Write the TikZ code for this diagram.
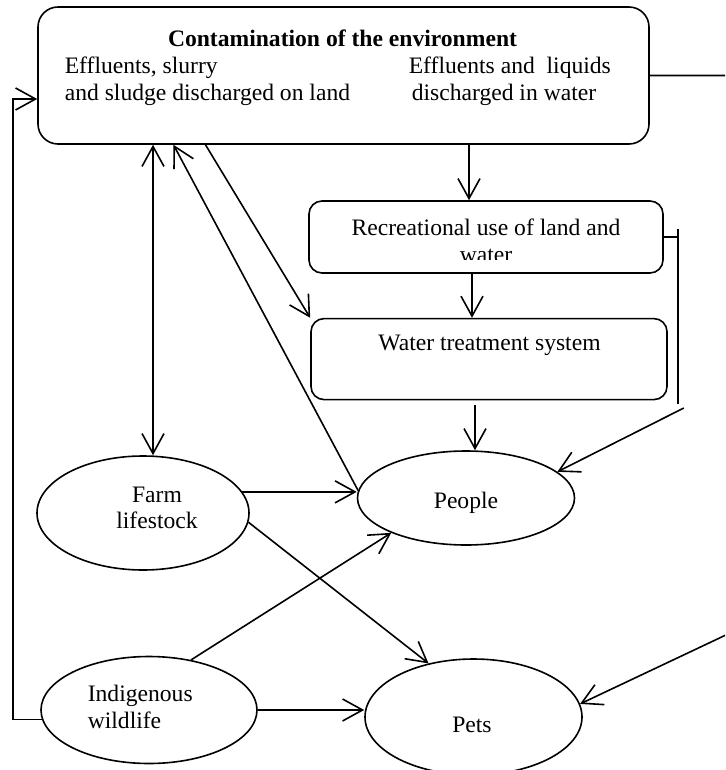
\documentclass[tikz,border=0pt]{standalone}
\usepackage{fontspec}
\setmainfont{Liberation Serif}
\usetikzlibrary{arrows.meta,positioning,shapes.geometric}

\begin{document}
\begin{tikzpicture}[x=0.5pt,y=-0.5pt,>={Straight Barb[length=10pt,width=11pt]},line width=0.8pt,
  font=\fontsize{11.8}{13.3}\selectfont,
  box/.style={draw,rounded corners=6.5pt,minimum width=177pt,minimum height=36pt,inner sep=0pt},
  oval/.style={draw,ellipse,inner sep=0pt,minimum width=108.5pt,minimum height=47pt},
  txt/.style={inner sep=0pt,align=center}]
\useasboundingbox (0,0) rectangle (725,770);
\clip (0,0) rectangle (725,770);
\node[box,rounded corners=10pt,minimum width=305.5pt,minimum height=68.5pt] (env) at (343.5,75.5) {};
\node[txt] (envtitle) at (342.5,38) {\bfseries Contamination of the environment};
\node[txt,align=left,anchor=west] (landtxt) at (64,81) {Effluents, slurry\\and sludge discharged on land};
\node[txt,align=left,anchor=west] (seatxt) at (408,81) {Effluents and~ liquids\\\hspace*{1.5pt}discharged in water};
\node[box] (rec) at (486,237) {};
\begin{scope}
\clip (rec.north west) rectangle ([yshift=7pt]rec.south east);
\node[txt] (rectxt) at (486,241) {Recreational use of land and\\water};
\end{scope}
\node[box,below=22pt of rec,xshift=1.5pt,minimum width=178pt,minimum height=40.5pt] (water) {};
\node[txt] (watertxt) at (489.5,345) {Water treatment system};
\node[oval,minimum width=106pt,minimum height=57pt] (farm) at (143,513) {};
\node[txt] (farmtxt) at (157,508) {Farm\\lifestock};
\node[oval] (people) at (466,498) {};
\node[txt] (peopletxt) at (466,503) {People};
\node[oval,minimum width=108pt,minimum height=53.5pt] (wild) at (149,710) {};
\node[txt,align=left,anchor=west] (wildtxt) at (87,707) {Indigenous\\wildlife};
\node[oval,minimum height=58pt] (pets) at (473.5,717) {};
\node[txt] (petstxt) at (472,725) {Pets};
\coordinate (bend) at (13,99);
\draw[->] (wild.185) -| (bend) -- (bend -| env.west);
\draw[<->] ([xshift=5pt]farm.north |- env.south) -- ([xshift=5pt]farm.north);
\draw[->] (people.176) -- ([xshift=-85pt]env.south);
\draw[->] ([xshift=-69pt]env.south) -- (water.north west);
\draw[->] ([xshift=-8.5pt]rec.north |- env.south) -- ([xshift=-8.5pt]rec.north);
\draw[->] ([xshift=-7pt]rec.south) -- ([xshift=-7pt]rec.south |- water.north);
\draw[->] ([xshift=-7pt,yshift=-2.5pt]water.south) -- ([xshift=-7pt]water.south |- people.north);
\draw (rec.east) -- ++(14,0) coordinate (rbt);
\draw ([yshift=4pt]rbt) -- ++(0,175) coordinate (rbb);
\draw[->] ([shift={(3pt,-2pt)}]rbb) -- (people.16);
\draw[->] (farm.12) -- (farm.12 -| people.west);
\draw[->] (farm.-5) -- (pets.130);
\draw[->] (wild.50) -- (people.205);
\draw[->] (wild.east) -- (wild.east -| pets.west);
\draw[->] (env.east) -- ++(111,0) -- ++(0,543) -- (pets.7);
\end{tikzpicture}
\end{document}
